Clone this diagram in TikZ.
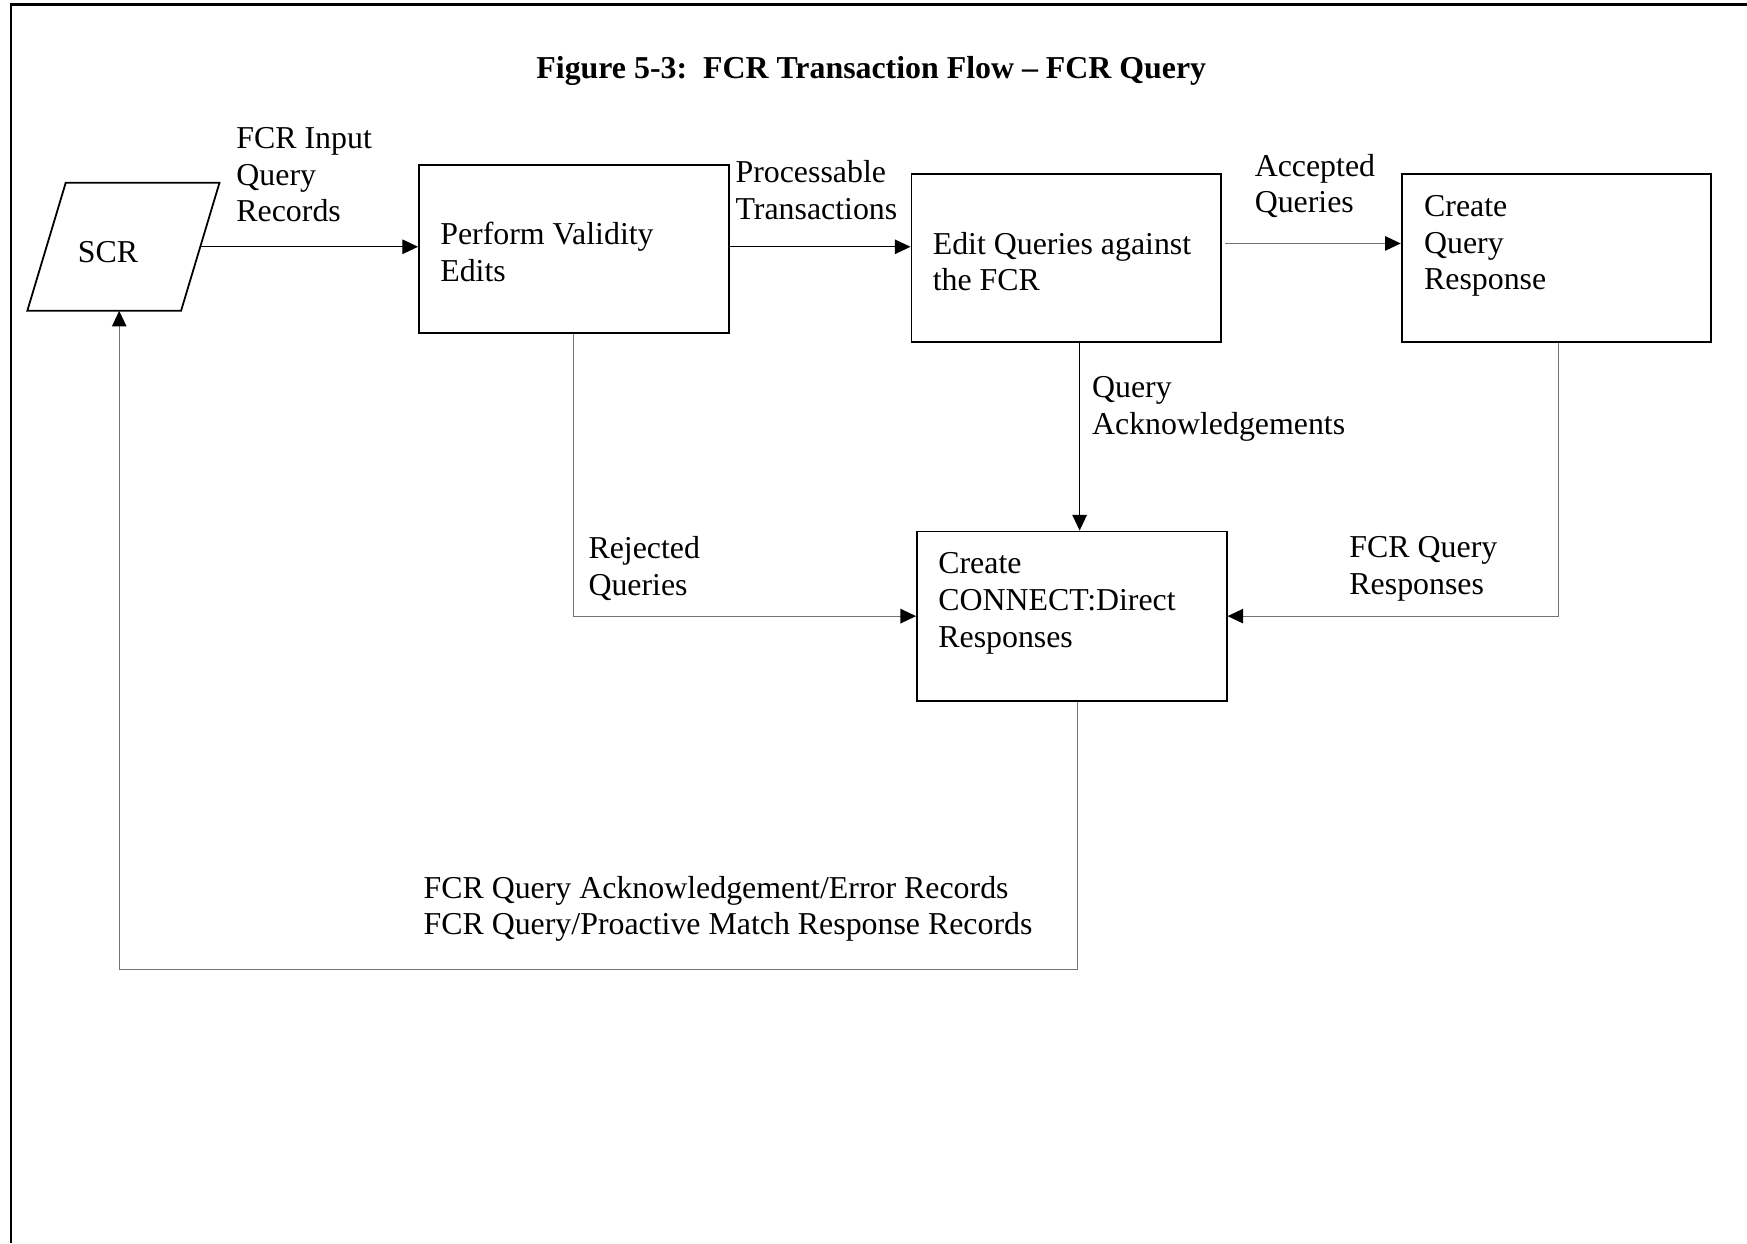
\documentclass[tikz,border=0pt]{standalone}
\usepackage{fontspec}
\setmainfont{Liberation Serif}
\usetikzlibrary{arrows.meta,calc}
\begin{document}
\begin{tikzpicture}[x=1pt,y=-1pt,
  every node/.style={font=\fontsize{28.6}{33}\selectfont, inner sep=0pt},
  box/.style={draw, line width=1.6pt, minimum width=278pt, minimum height=151pt},
  lbl/.style={anchor=north west, align=left},
  conn/.style={line width=1pt, -{Triangle[length=14pt,width=13pt,color=black]}},
  conng/.style={conn, draw=black!55},
]
\useasboundingbox (0,0) rectangle (1568,1116);
\fill[white] (0,0) rectangle (1568,1116);
\draw[line width=1.9pt] (10,1116) -- (10,4) -- (1568,4);

\node[font=\bfseries\fontsize{28.6}{33}\selectfont] (title) at (782,64) {Figure 5-3:~~FCR Transaction Flow – FCR Query};

% SCR parallelogram
\coordinate (sTL) at (59,164);
\coordinate (sTR) at (197,164);
\coordinate (sBR) at (162.5,279);
\coordinate (sBL) at (24.5,279);
\draw[line width=1.6pt, line join=miter] (sTL) -- (sTR) -- (sBR) -- (sBL) -- cycle;
\node (scrt) at (97,226) {SCR};
\coordinate (sE) at ($(sTR)!0.5!(sBR)$);
\coordinate (sB) at (107,279);

% boxes
\node[box] (pv) at (515,223.5) {};
\node[box] (eq) at (957,231.5) {};
\node[box] (cq) at (1397,231.5) {};
\node[box, minimum height=152pt] (cc) at (962,553) {};

\node[lbl] (pvt) at (395,199) {Perform Validity\\Edits};
\node[lbl] (eqt) at (837,208) {Edit Queries against\\the FCR};
\node[lbl] (cqt) at (1278,175) {Create\\Query\\Response};
\node[lbl] (cct) at (842,496) {Create\\CONNECT:Direct\\Responses};

% labels
\node[lbl] (l1) at (212,114) {FCR Input\\Query\\Records};
\node[lbl] (l2) at (660,144) {Processable\\Transactions};
\node[lbl] (l3) at (1126,138) {Accepted\\Queries};
\node[lbl] (l4) at (980,338) {Query\\Acknowledgements};
\node[lbl] (l5) at (528,481) {Rejected\\Queries};
\node[lbl] (l6) at (1211,481) {FCR Query\\Responses};
\node[lbl] (l7) at (380,786) {FCR Query Acknowledgement/Error Records\\FCR Query/Proactive Match Response Records};

% connectors
\draw[conn] (sE) -- (sE -| pv.west);
\draw[conn] ([yshift=2pt]pv.east) -- ([yshift=2pt]pv.east -| eq.west);
\draw[conng] ([xshift=3pt,yshift=13pt]eq.east) -- ([yshift=13pt]eq.east -| cq.west);
\draw[conn] ([xshift=12pt]eq.south) -- ([xshift=12pt]eq.south |- cc.north);
\draw[conng] (pv.south) |- (cc.west);
\draw[conng] ([xshift=2pt]cq.south) |- (cc.east);
\draw[conng] ([xshift=5pt]cc.south) -- ++(0,240) -| (sB);
\end{tikzpicture}
\end{document}
